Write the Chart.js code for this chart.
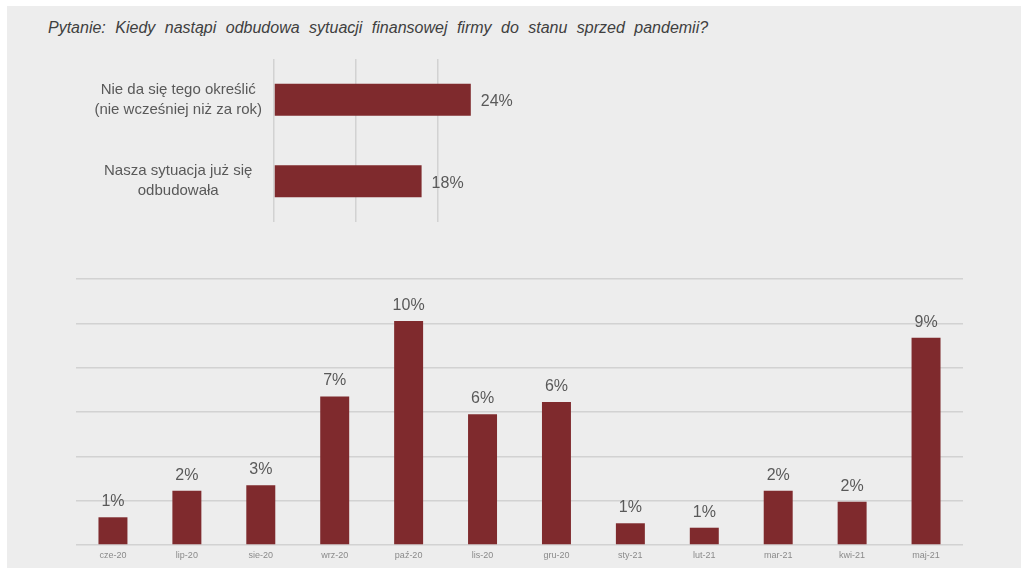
<!DOCTYPE html>
<html>
<head>
<meta charset="utf-8">
<script src="https://cdn.jsdelivr.net/npm/chart.js@4.4.1/dist/chart.umd.min.js"></script>
<style>
    body { margin: 0; background: #ffffff; width: 1021px; height: 568px; overflow: hidden; font-family: "Liberation Sans", Arial, sans-serif; }
    #panel { position: absolute; left: 7px; top: 6px; width: 1014px; height: 562px; background: #ededed; }
    #title { position: absolute; left: 48px; top: 19px; font-size: 16px; font-style: italic; color: #404040; word-spacing: 5px; white-space: nowrap; }
    #topWrap { position: absolute; left: 0; top: 50px; width: 560px; height: 190px; }
    #bottomWrap { position: absolute; left: 0; top: 260px; width: 1021px; height: 308px; }
</style>
</head>
<body>
<div id="panel"></div>
<div id="title">Pytanie: Kiedy nastąpi odbudowa sytuacji finansowej firmy do stanu sprzed pandemii?</div>
<div id="topWrap"><canvas id="topChart"></canvas></div>
<div id="bottomWrap"><canvas id="bottomChart"></canvas></div>
<script>

// DANE - odpowiedzi ogólne
const answerLabels = [
    ["Nie da się tego określić", "(nie wcześniej niż za rok)"],
    ["Nasza sytuacja już się", "odbudowała"]
];

const answerValues = [24, 18];

// DANE - miesiące
const months = [
    "cze-20", "lip-20", "sie-20", "wrz-20", "paź-20", "lis-20",
    "gru-20", "sty-21", "lut-21", "mar-21", "kwi-21", "maj-21"
];

const monthValues = [1.25, 2.45, 2.7, 6.7, 10.1, 5.9, 6.45, 0.98, 0.78, 2.45, 1.95, 9.35];

const barColor = "#7f2a2d";
const gridColor = "#d2d2d2";
const textColor = "#595959";

// ETYKIETY NAD SŁUPKAMI
const valueLabels = {
    id: "valueLabels",
    afterDatasetsDraw(chart, args, opts) {

        const ctx = chart.ctx;
        const meta = chart.getDatasetMeta(0);

        ctx.save();
        ctx.font = "16px 'Liberation Sans', Arial, sans-serif";
        ctx.fillStyle = textColor;

        meta.data.forEach((bar, i) => {

            const text = Math.round(chart.data.datasets[0].data[i]) + "%";

            if (opts.horizontal) {
                ctx.textAlign = "left";
                ctx.textBaseline = "middle";
                ctx.fillText(text, bar.x + 10, bar.y + 2);
            } else {
                ctx.textAlign = "center";
                ctx.textBaseline = "alphabetic";
                ctx.fillText(text, bar.x, bar.y - 11);
            }
        });

        ctx.restore();
    }
};

// GRAFIK GÓRNY
new Chart(document.getElementById("topChart"), {

    type: "bar",

    data: {
        labels: answerLabels,
        datasets: [{
            data: answerValues,
            backgroundColor: barColor,
            categoryPercentage: 0.8,
            barPercentage: 0.49
        }]
    },

    options: {
        indexAxis: "y",
        responsive: true,
        maintainAspectRatio: false,
        animation: false,
        layout: { padding: { top: 9, right: 81, left: 0, bottom: 0 } },
        plugins: {
            legend: { display: false },
            tooltip: { enabled: false },
            valueLabels: { horizontal: true }
        },
        scales: {
            x: {
                min: 0,
                max: 25,
                ticks: { display: false, stepSize: 10 },
                border: { display: false },
                grid: {
                    drawTicks: false,
                    lineWidth: 1.5,
                    color: c => c.tick && c.tick.value % 10 === 0 ? gridColor : "transparent"
                },
                afterFit: s => {
                    s.height = 18;
                    s.paddingLeft = 0;
                    s.paddingRight = 0;
                }
            },
            y: {
                border: { display: false },
                grid: { display: false, drawTicks: false },
                ticks: {
                    color: textColor,
                    padding: 12,
                    crossAlign: "center",
                    font: { size: 15, family: "'Liberation Sans', Arial, sans-serif", lineHeight: 1.33 }
                },
                afterFit: s => {
                    s.width = 274;
                    s.paddingTop = 0;
                    s.paddingBottom = 0;
                }
            }
        }
    },

    plugins: [valueLabels]
});

// GRAFIK DOLNY
new Chart(document.getElementById("bottomChart"), {

    type: "bar",

    data: {
        labels: months,
        datasets: [{
            data: monthValues,
            backgroundColor: barColor,
            categoryPercentage: 0.8,
            barPercentage: 0.49
        }]
    },

    options: {
        responsive: true,
        maintainAspectRatio: false,
        animation: false,
        layout: { padding: { top: 19, right: 58, left: 76, bottom: 0 } },
        plugins: {
            legend: { display: false },
            tooltip: { enabled: false },
            valueLabels: { horizontal: false }
        },
        scales: {
            x: {
                border: { display: false },
                grid: { display: false, drawTicks: false },
                ticks: {
                    color: "#8a8a8a",
                    padding: 5,
                    maxRotation: 0,
                    autoSkip: false,
                    font: { size: 9, family: "'Liberation Sans', Arial, sans-serif" }
                },
                afterFit: s => {
                    s.height = 23;
                    s.paddingLeft = 0;
                    s.paddingRight = 0;
                }
            },
            y: {
                min: 0,
                max: 12,
                border: { display: false },
                ticks: { display: false, stepSize: 2 },
                grid: { color: gridColor, lineWidth: 1.5, drawTicks: false },
                afterFit: s => {
                    s.width = 0;
                    s.paddingTop = 0;
                    s.paddingBottom = 0;
                }
            }
        }
    },

    plugins: [valueLabels]
});
</script>
</body>
</html>
